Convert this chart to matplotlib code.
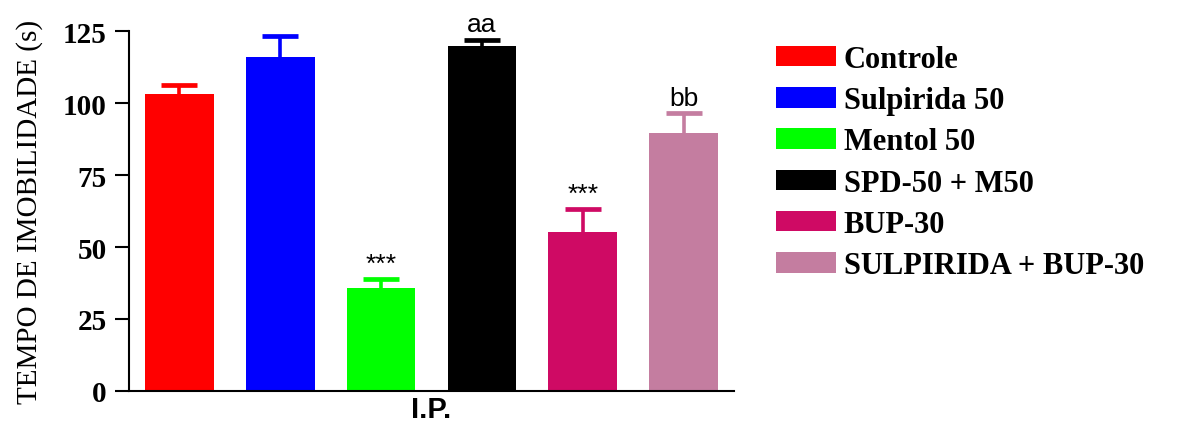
import matplotlib.pyplot as plt
import numpy as np

groups = ['Controle', 'Sulpirida 50', 'Mentol 50', 'SPD-50 + M50', 'BUP-30', 'SULPIRIDA + BUP-30']
means = [103.1, 116.0, 35.8, 119.8, 55.2, 89.6]
errs = [3.1, 7.3, 3.1, 2.1, 8.0, 6.9]
marks = ['', '', '***', 'aa', '***', 'bb']
colors = ['#ff0000', '#0000ff', '#00ff00', '#000000', '#cf0a64', '#c47da0']

fig = plt.figure(figsize=(11.8, 4.27), dpi=100)
ax = fig.add_axes([0.1093, 0.082, 0.5127, 0.843])

x = np.arange(len(groups))
bars = []
for i in range(len(groups)):
    b = ax.bar(x[i], means[i], width=0.68, color=colors[i], label=groups[i], zorder=2)
    eb = ax.errorbar(x[i], means[i], yerr=[[0], [errs[i]]], fmt='none', ecolor=colors[i],
                     elinewidth=2.6, capsize=13, capthick=3.4, zorder=1)
    # hide the lower cap (only upper error shown)
    eb[1][0].set_visible(False)
    if marks[i]:
        ax.text(x[i], means[i] + errs[i] + 1.2, marks[i], ha='center', va='bottom',
                fontsize=19, family='Liberation Sans')
    bars.append(b)

ax.set_xlim(-0.5, 5.5)
ax.set_ylim(0, 125)
ax.set_yticks([0, 25, 50, 75, 100, 125])
ax.set_xticks([])
ax.spines['top'].set_visible(False)
ax.spines['right'].set_visible(False)
ax.spines['left'].set_linewidth(1.5)
ax.spines['bottom'].set_linewidth(1.5)
ax.tick_params(axis='y', length=10, width=1.5, pad=6)
for t in ax.get_yticklabels():
    t.set_fontfamily('Liberation Serif')
    t.set_fontweight('bold')
    t.set_fontsize(21)

ax.set_ylabel('TEMPO DE IMOBILIDADE (s)', family='Liberation Serif', fontsize=21, labelpad=14)
ax.set_xlabel('I.P.', family='Liberation Sans', fontweight='bold', fontsize=21, labelpad=3)

fig.legend(handles=bars, labels=groups, loc='upper left', bbox_to_anchor=(0.634, 0.957),
           frameon=False, handlelength=1.97, handleheight=0.66, handletextpad=0.26,
           labelspacing=0.4, borderpad=0.4,
           prop={'family': 'Liberation Serif', 'weight': 'bold', 'size': 22})

fig.savefig('out.png', dpi=100)
